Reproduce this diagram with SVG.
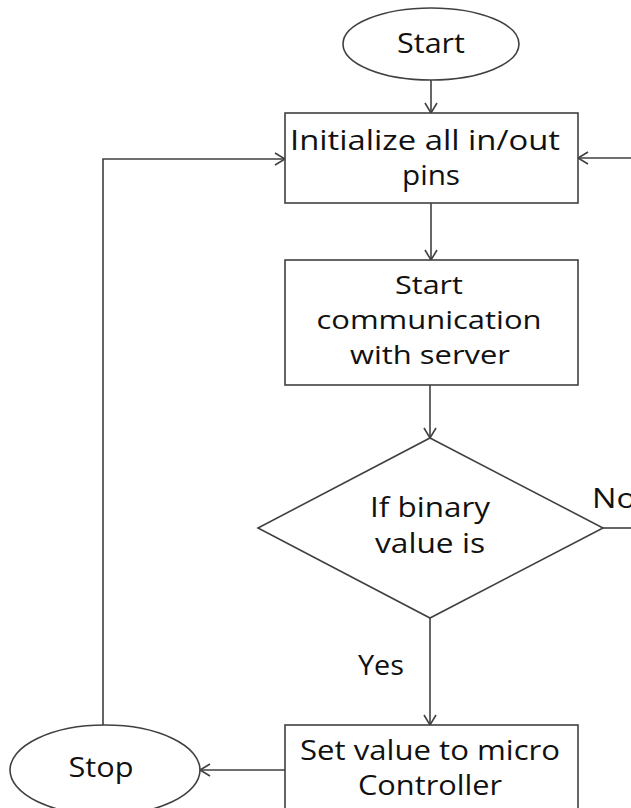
<svg xmlns="http://www.w3.org/2000/svg" width="631" height="808" viewBox="0 0 631 808">
<style>
.s{fill:#fff;stroke:#404040;stroke-width:1.6}
.c{fill:none;stroke:#404040;stroke-width:1.6}
.t{font-family:"Open Sans","Liberation Sans",sans-serif;font-size:27px;fill:#111;text-anchor:middle}
.m{font-size:25.5px}
</style>
<defs>
<marker id="a" markerWidth="14" markerHeight="14" refX="12" refY="7" orient="auto" markerUnits="userSpaceOnUse">
<path d="M2,1 L12,7 L2,13" fill="none" stroke="#404040" stroke-width="1.6"/>
</marker>
</defs>
<rect width="631" height="808" fill="#fff"/>
<g id="connectors">
<line class="c" x1="431" y1="80" x2="431" y2="113" marker-end="url(#a)"/>
<line class="c" x1="431" y1="203" x2="431" y2="260" marker-end="url(#a)"/>
<line class="c" x1="430" y1="385" x2="430" y2="438" marker-end="url(#a)"/>
<line class="c" x1="430" y1="618" x2="430" y2="725" marker-end="url(#a)"/>
<line class="c" x1="603" y1="528" x2="631" y2="528"/>
<line class="c" x1="631" y1="158" x2="578" y2="158" marker-end="url(#a)"/>
<line class="c" x1="285" y1="770" x2="200" y2="770" marker-end="url(#a)"/>
<polyline class="c" points="103,725 103,159 285,159" marker-end="url(#a)"/>
<text class="t" x="381" y="675" textLength="46" lengthAdjust="spacingAndGlyphs">Yes</text>
<text class="t" x="592" y="508" style="text-anchor:start" textLength="44" lengthAdjust="spacingAndGlyphs">No</text>
</g>
<g id="start">
<ellipse class="s" cx="431" cy="44" rx="88" ry="36"/>
<text class="t" x="431" y="53" textLength="68" lengthAdjust="spacingAndGlyphs">Start</text>
</g>
<g id="init">
<rect class="s" x="285" y="113" width="293" height="90"/>
<text class="t" x="425" y="150" textLength="270" lengthAdjust="spacingAndGlyphs">Initialize all in/out</text>
<text class="t" x="431" y="185" textLength="58" lengthAdjust="spacingAndGlyphs">pins</text>
</g>
<g id="comm">
<rect class="s" x="285" y="260" width="293" height="125"/>
<text class="t m" x="429" y="294" textLength="68" lengthAdjust="spacingAndGlyphs">Start</text>
<text class="t m" x="429" y="329" textLength="225" lengthAdjust="spacingAndGlyphs">communication</text>
<text class="t m" x="430" y="364" textLength="160" lengthAdjust="spacingAndGlyphs">with server</text>
</g>
<g id="decision">
<polygon class="s" points="430,438 603,528 430,618 258,528"/>
<text class="t" x="430" y="517" textLength="120" lengthAdjust="spacingAndGlyphs">If binary</text>
<text class="t" x="430" y="553" textLength="110" lengthAdjust="spacingAndGlyphs">value is</text>
</g>
<g id="set">
<rect class="s" x="285" y="725" width="293" height="110"/>
<text class="t" x="430" y="760" textLength="260" lengthAdjust="spacingAndGlyphs">Set value to micro</text>
<text class="t" x="430" y="795" textLength="144" lengthAdjust="spacingAndGlyphs">Controller</text>
</g>
<g id="stop">
<ellipse class="s" cx="105" cy="770" rx="95" ry="45"/>
<text class="t" x="101" y="777" textLength="65" lengthAdjust="spacingAndGlyphs">Stop</text>
</g>
</svg>
